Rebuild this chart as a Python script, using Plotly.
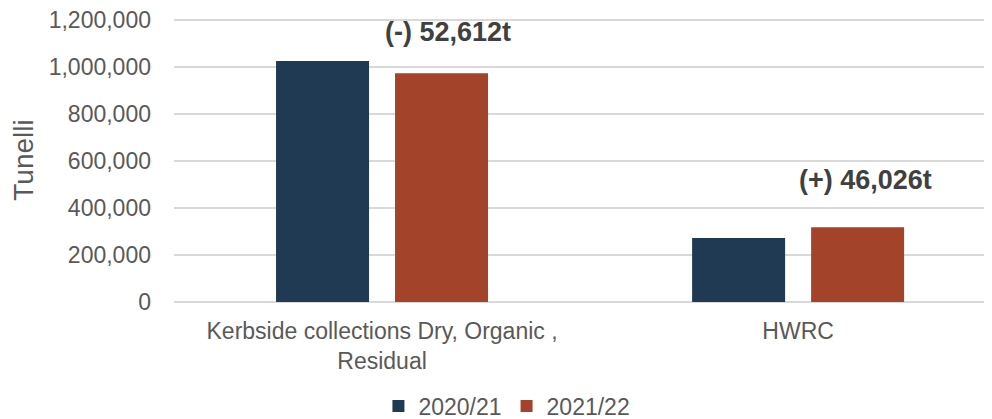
import plotly.graph_objects as go

categories = ["Kerbside collections Dry, Organic ,<br>Residual", "HWRC"]
series_names = ["2020/21", "2021/22"]
values_2020_21 = [1026000, 272000]
values_2021_22 = [973388, 318026]
series_colors = ["#1F3A52", "#A2432A"]
change_labels = ["(-) 52,612t", "(+) 46,026t"]
y_tick_values = [0, 200000, 400000, 600000, 800000, 1000000, 1200000]

font_family = "Arial, Liberation Sans, sans-serif"

fig = go.Figure()
for name, vals, col in zip(series_names, [values_2020_21, values_2021_22], series_colors):
    fig.add_trace(go.Bar(x=categories, y=vals, name=name, marker_color=col,
                         marker_line_width=0))

ann_pos = [(0.159, 1147000), (1.163, 518000)]
for lab, (ax, ay) in zip(change_labels, ann_pos):
    fig.add_annotation(x=ax, y=ay, xref="x", yref="y", text="<b>" + lab + "</b>",
                       showarrow=False, font=dict(family=font_family, size=27, color="#404040"))

fig.update_layout(
    width=984, height=411,
    margin=dict(l=166, r=0, t=10, b=117, autoexpand=False),
    plot_bgcolor="white", paper_bgcolor="white",
    barmode="group", bargap=0.428, bargroupgap=0.2185,
    font=dict(family=font_family, size=23, color="#595959"),
    showlegend=True,
    legend=dict(orientation="h", x=0.407, xanchor="center", y=-0.366, yanchor="middle",
                font=dict(size=23, color="#595959"), itemwidth=30, traceorder="normal"),
)
fig.update_xaxes(range=[-0.5, 1.466], showgrid=False, showline=False, zeroline=False,
                 ticklabelstandoff=13,
                 tickfont=dict(size=23, color="#595959"), automargin=False)
fig.update_yaxes(range=[0, 1208500], tickvals=y_tick_values, tickformat=",",
                 showgrid=True, gridcolor="#D9D9D9", gridwidth=1.5,
                 zeroline=True, zerolinecolor="#D9D9D9", zerolinewidth=1.5,
                 showline=False, ticklabelstandoff=22, ticklabeloverflow="allow",
                 tickfont=dict(size=23, color="#595959"),
                 title=dict(text="Tunelli", font=dict(size=28, color="#595959"), standoff=8),
                 automargin=False)

fig.write_html("out.html")
